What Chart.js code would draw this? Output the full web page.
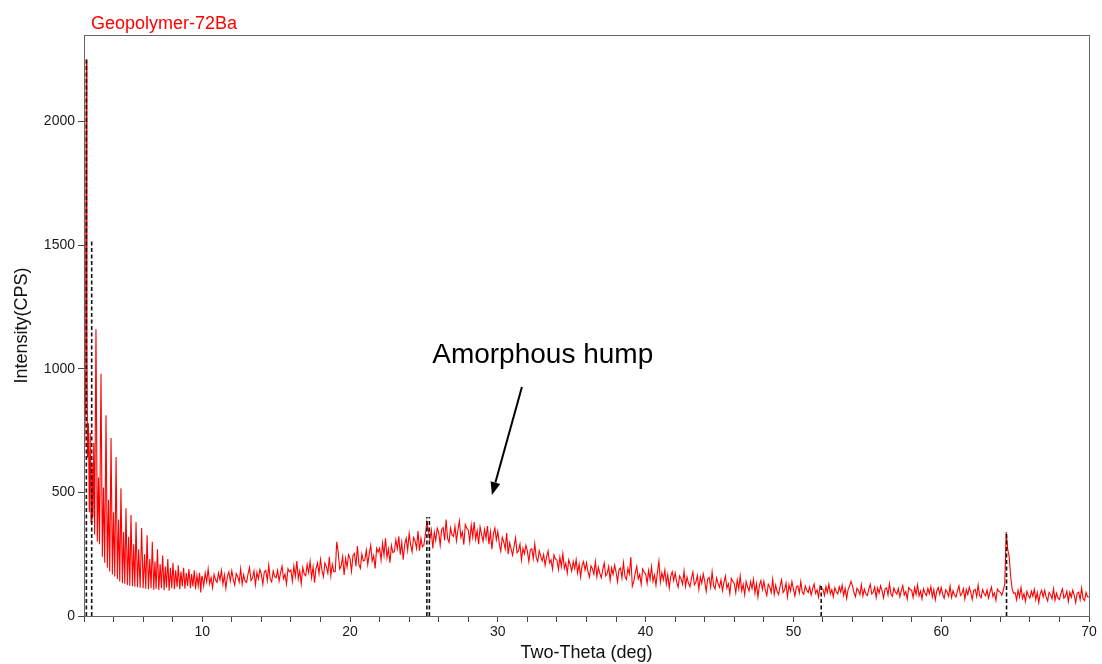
<!DOCTYPE html>
<html>
<head>
<meta charset="utf-8">
<title>Geopolymer-72Ba XRD</title>
<script src="https://cdn.jsdelivr.net/npm/chart.js@4.4.1/dist/chart.umd.min.js"></script>
<style>
  html, body { margin: 0; padding: 0; background: #ffffff; }
  canvas { display: block; }
</style>
</head>
<body>
<canvas id="xrd" width="1102" height="664"></canvas>
<script>
// Low-angle region (2–10°): fringes read peak/trough by peak/trough
const lowTheta = [2.00,2.04,2.08,2.12,2.16,2.20,2.24,2.30,2.36,2.42,2.48,2.54,2.60,2.66,2.72,
  2.81,2.90,2.98,3.05,3.15,3.24,3.32,3.40,3.49,3.58,3.66,3.74,3.83,3.92,4.00,4.08,4.17,4.26,4.34,4.42,
  4.50,4.60,4.68,4.76,4.84,4.94,5.02,5.10,5.18,5.28,5.36,5.44,5.52,5.62,5.70,5.80,5.90,6.00,6.10,6.18,
  6.27,6.36,6.45,6.54,6.62,6.72,6.80,6.88,6.97,7.06,7.15,7.24,7.32,7.42,7.50,7.58,7.67,7.76,7.85,7.94,
  8.02,8.12,8.20,8.30,8.38,8.48,8.56,8.65,8.74,8.83,8.92,9.01,9.10,9.20,9.28,9.37,9.46,9.55,9.64,9.73,
  9.82,9.90,9.96];
const lowCps = [980,680,820,1400,2250,1100,640,780,420,740,380,620,400,700,330,
  1160,300,560,290,980,240,520,215,812,195,470,180,720,168,420,160,643,150,390,140,
  517,133,340,130,436,125,320,122,408,120,290,118,380,116,270,114,356,112,250,110,
  327,108,230,112,300,106,220,110,270,105,210,112,245,104,200,115,230,102,195,112,
  215,108,185,118,205,108,180,120,195,110,175,122,190,112,170,120,185,108,165,122,
  175,95,158];

// Step scan from 10° to 70°, 0.1° per step, one row per degree
const scanStep = 0.1;
const scanStart = [10, 20, 30, 40, 50, 60];
const cps10 = [
  160,122,174,138,190,130,156,114,168,146,
  136,174,146,184,128,166,112,160,178,142,
  183,147,125,171,159,137,191,129,167,141,
  136,170,196,144,154,182,126,176,150,188,
  168,128,178,184,144,206,150,138,182,160,
  155,185,141,175,201,151,169,129,191,179,
  186,140,202,160,222,150,182,130,196,170,
  163,209,175,221,155,199,135,193,215,171,
  229,185,159,215,199,173,239,163,209,179,
  180,300,258,190,202,240,166,232,198,248];
const cps20 = [
  233,181,245,253,201,283,209,193,251,223,
  226,266,208,252,286,222,244,192,274,258,
  274,226,294,246,314,236,270,216,286,256,
  260,308,272,322,248,298,228,290,314,266,
  334,288,260,318,304,274,344,264,314,280,
  287,331,380,345,309,347,273,339,305,355,
  338,286,350,358,306,390,314,298,356,328,
  322,362,304,348,385,318,340,288,370,354,
  348,300,368,320,380,310,344,290,360,330,
  302,350,314,364,290,340,270,332,356,308];
const cps30 = [
  342,292,262,318,300,272,336,250,296,270,
  246,282,316,256,264,290,226,274,252,286,
  262,220,268,272,232,292,236,220,264,242,
  223,249,205,239,263,215,227,189,247,231,
  226,188,238,200,252,192,214,174,228,208,
  182,220,192,228,174,210,158,204,220,186,
  215,179,157,203,191,169,221,159,197,173,
  154,188,214,162,172,200,144,194,168,206,
  178,138,188,194,154,216,160,148,192,170,
  238,120,140,174,200,150,168,128,190,178];
const cps40 = [
  170,132,184,148,200,140,166,124,178,222,
  137,175,147,185,129,167,113,161,179,143,
  174,138,116,162,150,128,182,120,158,132,
  118,152,178,126,136,164,108,158,132,170,
  140,100,150,156,116,178,122,110,154,132,
  116,146,102,136,162,112,130,90,152,140,
  132,94,146,110,162,102,128,86,140,118,
  101,139,111,149,93,131,77,125,143,107,
  141,105,83,129,117,95,149,87,125,99,
  87,121,147,95,105,133,77,127,101,139];
const cps50 = [
  110,81,118,122,93,139,97,88,121,105,
  95,118,85,110,130,92,106,76,122,113,
  108,83,119,95,129,89,107,78,114,99,
  89,118,97,125,83,112,71,107,121,140,
  121,94,78,112,103,87,127,81,109,90,
  83,108,128,89,96,117,75,113,93,122,
  102,73,110,114,85,131,89,80,113,97,
  88,111,78,103,123,85,99,69,115,106,
  104,75,114,87,126,81,101,69,110,93,
  83,112,90,119,77,106,65,101,115,88];
const cps60 = [
  115,88,72,106,97,80,121,75,103,84,
  77,102,122,83,90,111,69,107,87,116,
  96,67,104,108,79,125,83,74,107,91,
  82,105,72,97,117,79,93,63,109,100,
  96,84,104,130,340,270,240,160,110,92,
  94,65,104,77,116,71,90,59,100,83,
  72,100,80,108,66,95,54,90,104,77,
  104,77,61,95,86,70,110,64,92,73,
  66,91,110,72,79,100,58,96,76,104,
  84,54,92,96,66,113,71,62,95,78,
  77];

// Reference phase lines (position, intensity)
const refTheta = [2.16, 2.52, 25.20, 25.37, 51.88, 64.42];
const refCps   = [2255, 1520, 400, 400, 130, 340];

// Axis ticks
const xTickStep = 2, xLabelEvery = 10;
const yTicks = [0, 500, 1000, 1500, 2000];

const scanPoints = lowTheta.map((t, i) => ({ x: t, y: lowCps[i] }));
[cps10, cps20, cps30, cps40, cps50, cps60].forEach((arr, k) => {
  arr.forEach((v, i) => scanPoints.push({ x: +(scanStart[k] + i * scanStep).toFixed(2), y: v }));
});

const refSets = refTheta.map((t, i) => ({
  data: [{ x: t, y: 0 }, { x: t, y: refCps[i] }],
  borderColor: '#111111',
  borderWidth: 1.6,
  borderDash: [4, 2.5],
  pointRadius: 0,
  fill: false,
  order: 1
}));

const FONT = "'Liberation Sans', Arial, Helvetica, sans-serif";

// Frame, sample name and the hump annotation
const decorations = {
  id: 'decorations',
  afterDraw(chart) {
    const { ctx, chartArea: a, scales } = chart;
    ctx.save();
    ctx.strokeStyle = '#666666';
    ctx.lineWidth = 1;
    ctx.strokeRect(Math.round(a.left) + 0.5, Math.round(a.top) + 0.5,
                   Math.round(a.right - a.left), Math.round(a.bottom - a.top));

    ctx.fillStyle = '#ff0000';
    ctx.font = '18px ' + FONT;
    ctx.textBaseline = 'alphabetic';
    ctx.textAlign = 'left';
    ctx.fillText('Geopolymer-72Ba', a.left + 7, a.top - 6);

    const xs = scales.x, ys = scales.y;
    ctx.fillStyle = '#000000';
    ctx.font = '28px ' + FONT;
    ctx.fillText('Amorphous hump', xs.getPixelForValue(25.56), ys.getPixelForValue(1023));

    const x0 = xs.getPixelForValue(31.63), y0 = ys.getPixelForValue(926);
    const x1 = xs.getPixelForValue(29.6),  y1 = ys.getPixelForValue(489);
    const ang = Math.atan2(y1 - y0, x1 - x0);
    const head = 13, half = 5;
    const bx = x1 - head * Math.cos(ang), by = y1 - head * Math.sin(ang);
    ctx.strokeStyle = '#000000';
    ctx.lineWidth = 2;
    ctx.beginPath();
    ctx.moveTo(x0, y0);
    ctx.lineTo(bx, by);
    ctx.stroke();
    ctx.beginPath();
    ctx.moveTo(x1, y1);
    ctx.lineTo(bx + half * Math.sin(ang), by - half * Math.cos(ang));
    ctx.lineTo(bx - half * Math.sin(ang), by + half * Math.cos(ang));
    ctx.closePath();
    ctx.fill();
    ctx.restore();
  }
};

new Chart(document.getElementById('xrd'), {
  type: 'line',
  data: {
    datasets: [
      ...refSets,
      {
        data: scanPoints,
        borderColor: '#ff0000',
        borderWidth: 1.1,
        pointRadius: 0,
        tension: 0,
        fill: false,
        order: 2
      }
    ]
  },
  options: {
    responsive: false,
    animation: false,
    devicePixelRatio: 1,
    layout: { padding: { top: 35, right: 13, left: 0, bottom: 0 } },
    plugins: { legend: { display: false }, tooltip: { enabled: false }, title: { display: false } },
    scales: {
      x: {
        type: 'linear',
        min: 2,
        max: 70,
        afterFit: s => { s.height = 48; },
        ticks: {
          stepSize: xTickStep,
          autoSkip: false,
          maxRotation: 0,
          padding: 2,
          color: '#1a1a1a',
          font: { family: FONT, size: 14 },
          callback: v => (v % xLabelEvery === 0 ? String(v) : '')
        },
        grid: { drawOnChartArea: false, drawTicks: true, tickLength: 6, color: '#444444' },
        border: { color: '#666666' },
        title: {
          display: true,
          text: 'Two-Theta (deg)',
          color: '#111111',
          font: { family: FONT, size: 18 },
          padding: { top: 2, bottom: 0 }
        }
      },
      y: {
        type: 'linear',
        min: 0,
        max: 2350,
        afterFit: s => { s.width = 84; },
        afterBuildTicks: s => { s.ticks = yTicks.map(v => ({ value: v })); },
        ticks: {
          autoSkip: false,
          padding: 3,
          color: '#1a1a1a',
          font: { family: FONT, size: 14 },
          callback: v => String(v)
        },
        grid: { drawOnChartArea: false, drawTicks: true, tickLength: 6, color: '#444444' },
        border: { color: '#666666' },
        title: {
          display: true,
          text: 'Intensity(CPS)',
          color: '#111111',
          font: { family: FONT, size: 18 },
          padding: { top: 11, bottom: 0 }
        }
      }
    }
  },
  plugins: [decorations]
});
</script>
</body>
</html>
